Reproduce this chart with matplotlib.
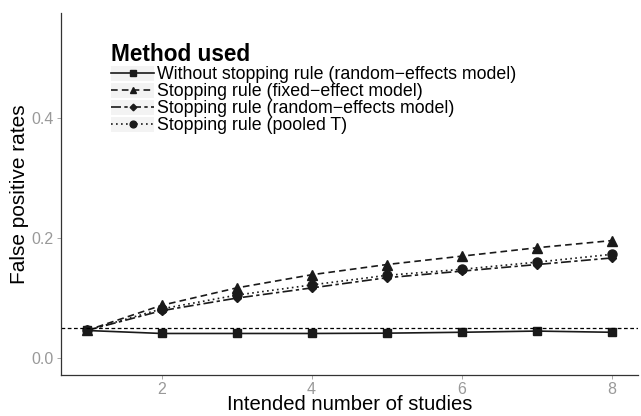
import matplotlib.pyplot as plt
from matplotlib.lines import Line2D
from matplotlib.patches import Rectangle
from matplotlib.legend_handler import HandlerLine2D

plt.rcParams['font.family'] = ['Liberation Sans', 'DejaVu Sans']

studies = [1, 2, 3, 4, 5, 6, 7, 8]
without_rule = [0.046, 0.041, 0.041, 0.041, 0.0415, 0.043, 0.045, 0.043]
fixed_rule = [0.046, 0.088, 0.117, 0.139, 0.156, 0.170, 0.184, 0.196]
random_rule = [0.046, 0.079, 0.100, 0.117, 0.134, 0.145, 0.156, 0.167]
pooled_rule = [0.046, 0.082, 0.105, 0.122, 0.138, 0.148, 0.160, 0.173]
labels = ["Without stopping rule (random\u2212effects model)",
          "Stopping rule (fixed\u2212effect model)",
          "Stopping rule (random\u2212effects model)",
          "Stopping rule (pooled T)"]
alpha_level = 0.05


class KeyBox(HandlerLine2D):
    # grey key background like ggplot
    def create_artists(self, legend, orig_handle, xdescent, ydescent,
                       width, height, fontsize, trans):
        arts = super().create_artists(legend, orig_handle, xdescent, ydescent,
                                      width, height, fontsize, trans)
        box = Rectangle((-xdescent, -ydescent - 0.1 * fontsize), width,
                        height + 0.1 * fontsize, facecolor='#f3f3f3',
                        edgecolor='none', transform=trans)
        return [box] + list(arts)


fig = plt.figure(figsize=(6.41, 4.16), dpi=100)
ax = fig.add_axes([0.095, 0.099, 0.9, 0.87])

styles = [
    dict(ls='-', marker='s', ms=6),
    dict(ls=(0, (4, 2.5)), marker='^', ms=6.5),
    dict(ls=(0, (6, 2, 2, 2)), marker='D', ms=4.5),
    dict(ls=(0, (1, 2)), marker='o', ms=6.5),
]
series = [without_rule, fixed_rule, random_rule, pooled_rule]
handles = []
for ys, st, lab in zip(series, styles, labels):
    ax.plot(studies, ys, color='#1a1a1a', lw=1.2, linestyle=st['ls'],
            marker=st['marker'], ms=st['ms'])
    handles.append(Line2D([], [], color='#1a1a1a', lw=1.2, linestyle=st['ls'],
                          marker=st['marker'], ms=st['ms'] * 0.75))

ax.axhline(alpha_level, color='black', lw=0.9, ls=(0, (3, 2)))

ax.set_xlim(0.657, 8.35)
ax.set_ylim(-0.028, 0.576)
ax.set_xticks([2, 4, 6, 8])
ax.set_yticks([0.0, 0.2, 0.4])
ax.set_yticklabels(['0.0', '0.2', '0.4'])
ax.tick_params(colors='#999999', labelsize=11.5, length=3, width=0.6, pad=2.5)
ax.tick_params(axis='x', pad=2)
for side in ['top', 'right']:
    ax.spines[side].set_visible(False)
for side in ['left', 'bottom']:
    ax.spines[side].set_color('#333333')
    ax.spines[side].set_linewidth(0.9)

ax.set_xlabel('Intended number of studies', fontsize=14.6, labelpad=-1)
ax.set_ylabel('False positive rates', fontsize=15, labelpad=1)

leg = ax.legend(handles, labels, title='Method used', loc='upper left',
                bbox_to_anchor=(0.072, 0.942), frameon=False, fontsize=12.8,
                handlelength=2.4, handletextpad=0.15, labelspacing=0.0,
                borderpad=0, handler_map={Line2D: KeyBox()},
                title_fontproperties={'weight': 'bold', 'size': 16.3})
leg._legend_box.align = 'left'

fig.savefig('out.png', dpi=100)
